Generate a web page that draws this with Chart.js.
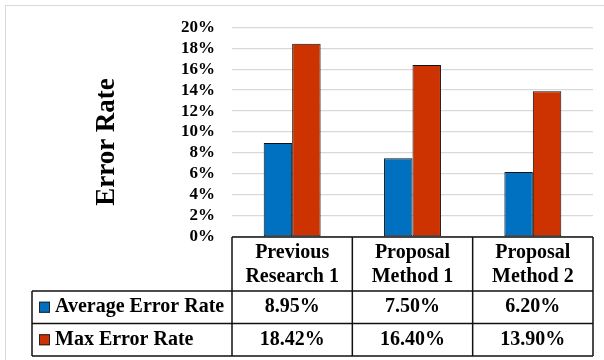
<!DOCTYPE html>
<html>
<head>
<meta charset="utf-8">
<script src="https://cdn.jsdelivr.net/npm/chart.js@4.4.1/dist/chart.umd.min.js"></script>
<style>
  html, body { margin: 0; padding: 0; background: #fff; }
  #errChart { display: block; }
</style>
</head>
<body>
<canvas id="errChart" width="604" height="360"></canvas>
<script>
// categories (two-line labels for the table header)
const categories = [['Previous', 'Research 1'], ['Proposal', 'Method 1'], ['Proposal', 'Method 2']];
const seriesNames = ['Average Error Rate', 'Max Error Rate'];
const averageError = [8.95, 7.50, 6.20];
const maxError = [18.42, 16.40, 13.90];
const yTicks = [0, 2, 4, 6, 8, 10, 12, 14, 16, 18, 20];
const yTitle = 'Error Rate';

const seriesColors = ['#0070C0', '#CC3300'];
const serif = "'Liberation Serif', 'Times New Roman', serif";

Chart.defaults.font.family = serif;
Chart.defaults.color = '#000';

// data table under the plot, like the spreadsheet one
const dataTable = {
    id: 'dataTable',
    beforeDraw(chart) {
        const ctx = chart.ctx;
        ctx.save();
        ctx.fillStyle = '#fff';
        ctx.fillRect(0, 0, chart.width, chart.height);
        ctx.strokeStyle = '#d9d9d9';
        ctx.lineWidth = 1;
        ctx.strokeRect(5.5, 5.5, chart.width + 10, chart.height + 10);
        ctx.restore();
    },
    afterDraw(chart) {
        const ctx = chart.ctx;
        const area = chart.chartArea;
        const xs = chart.scales.x;
        const colW = (area.right - area.left) / categories.length;
        const tableLeft = 32;
        const headTop = area.bottom;
        const headBottom = headTop + 54;
        const rowH = 32.5;
        const tableBottom = headBottom + rowH * 2;
        const rows = [averageError, maxError];

        ctx.save();
        ctx.strokeStyle = '#111';
        ctx.lineWidth = 1.5;
        ctx.beginPath();
        // horizontal rules
        ctx.moveTo(area.left, headTop);
        ctx.lineTo(area.right, headTop);
        for (let r = 0; r <= 2; r++) {
            const y = headBottom + r * rowH;
            ctx.moveTo(tableLeft, y);
            ctx.lineTo(area.right, y);
        }
        // vertical rules
        ctx.moveTo(tableLeft, headBottom);
        ctx.lineTo(tableLeft, tableBottom);
        for (let c = 0; c <= categories.length; c++) {
            const x = area.left + c * colW;
            ctx.moveTo(x, headTop);
            ctx.lineTo(x, tableBottom);
        }
        ctx.stroke();

        ctx.fillStyle = '#000';
        ctx.textAlign = 'center';
        ctx.textBaseline = 'middle';
        ctx.font = 'bold 20px ' + serif;
        categories.forEach((lines, i) => {
            const x = xs.getPixelForValue(i);
            ctx.fillText(lines[0], x, headTop + 16);
            ctx.fillText(lines[1], x, headTop + 40);
        });

        rows.forEach((vals, r) => {
            const yMid = headBottom + r * rowH + rowH / 2;
            vals.forEach((v, i) => {
                ctx.textAlign = 'center';
                ctx.fillText(v.toFixed(2) + '%', xs.getPixelForValue(i), yMid);
            });
            // legend key + series name
            ctx.fillStyle = seriesColors[r];
            ctx.fillRect(39, yMid - 5.5, 11, 11);
            ctx.strokeStyle = '#222';
            ctx.lineWidth = 1;
            ctx.strokeRect(39.5, yMid - 5, 10, 10);
            ctx.fillStyle = '#000';
            ctx.textAlign = 'left';
            ctx.fillText(seriesNames[r], 55, yMid);
        });

        // axis title
        ctx.translate(107, 142);
        ctx.rotate(-Math.PI / 2);
        ctx.textAlign = 'center';
        ctx.font = 'bold 27px ' + serif;
        ctx.fillText(yTitle, 0, 0);
        ctx.restore();
    }
};

const errChart = new Chart(document.getElementById('errChart').getContext('2d'), {
    type: 'bar',
    data: {
        labels: categories.map(c => c.join(' ')),
        datasets: [{
            label: seriesNames[0],
            data: averageError,
            backgroundColor: seriesColors[0],
            borderColor: '#111',
            borderWidth: 1,
            borderSkipped: false
        }, {
            label: seriesNames[1],
            data: maxError,
            backgroundColor: seriesColors[1],
            borderColor: '#111',
            borderWidth: 1,
            borderSkipped: false
        }]
    },
    options: {
        responsive: false,
        animation: false,
        devicePixelRatio: 1,
        layout: {
            padding: { left: 0, top: 24, right: 11, bottom: 123 }
        },
        datasets: {
            bar: { categoryPercentage: 0.473, barPercentage: 1 }
        },
        plugins: {
            legend: { display: false },
            tooltip: { enabled: false }
        },
        scales: {
            x: { display: false },
            y: {
                min: yTicks[0],
                max: yTicks[yTicks.length - 1],
                afterBuildTicks(scale) {
                    scale.ticks = yTicks.map(v => ({ value: v }));
                },
                afterFit(scale) {
                    scale.width = 232;
                },
                border: { display: false },
                grid: { color: '#d9d9d9', lineWidth: 1.3, drawTicks: false },
                ticks: {
                    autoSkip: false,
                    padding: 17,
                    color: '#000',
                    font: { family: serif, weight: 'bold', size: 17 },
                    callback: v => v + '%'
                }
            }
        }
    },
    plugins: [dataTable]
});
</script>
</body>
</html>
